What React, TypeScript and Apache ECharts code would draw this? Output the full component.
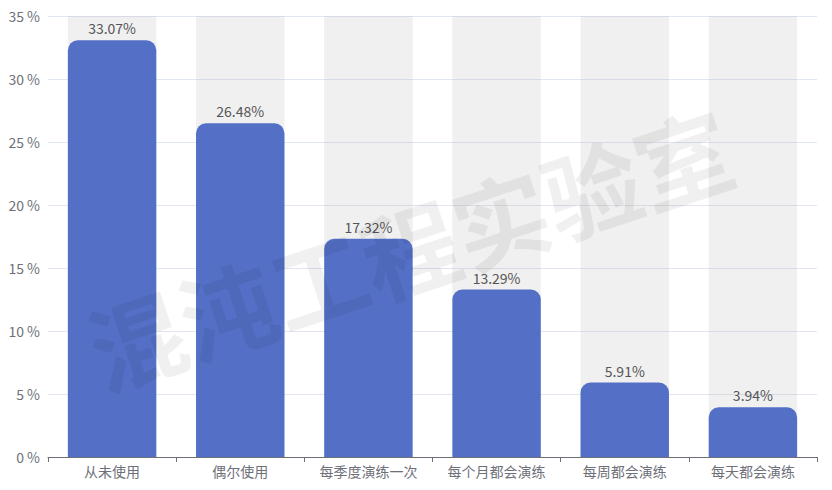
import React, { useEffect, useRef } from "react";
import * as echarts from "echarts";

const categories = ["从未使用", "偶尔使用", "每季度演练一次", "每个月都会演练", "每周都会演练", "每天都会演练"];
const values = [33.07, 26.48, 17.32, 13.29, 5.91, 3.94];
const watermarkText = "混沌工程实验室";

const FONT = "'Noto Sans CJK SC', 'Noto Sans', sans-serif";

export default function App() {
  const ref = useRef<HTMLDivElement>(null);
  useEffect(() => {
    if (!ref.current) return;
    const chart = echarts.init(ref.current, null, { renderer: "svg" });
    chart.setOption({
      animation: false,
      textStyle: { fontFamily: FONT },
      grid: { left: 48, right: 15, top: 16, bottom: 33, containLabel: false },
      xAxis: {
        type: "category",
        data: categories,
        axisTick: { show: true, alignWithLabel: false },
        axisLine: { lineStyle: { color: "#6e7079" } },
        axisLabel: { fontSize: 14, color: "#6e7079", fontFamily: FONT, margin: 7 },
      },
      yAxis: {
        type: "value",
        min: 0,
        max: 35,
        interval: 5,
        axisLabel: { formatter: "{value} %", fontSize: 14, color: "#6e7079", fontFamily: FONT, margin: 8 },
        splitLine: { lineStyle: { color: "#e0e6f1" } },
      },
      series: [
        {
          type: "bar",
          data: values,
          barWidth: "69%",
          showBackground: true,
          backgroundStyle: { color: "rgba(180,180,180,0.2)" },
          itemStyle: { color: "#5470c6", borderRadius: [10, 10, 0, 0] },
          label: {
            show: true,
            position: "top",
            formatter: (p: any) => p.value.toFixed(2) + "%",
            fontSize: 14,
            color: "#555",
            fontFamily: FONT,
          },
        },
      ],
      graphic: [
        {
          type: "text",
          x: 409,
          y: 247,
          rotation: 0.32,
          z: 100,
          silent: true,
          style: {
            text: watermarkText,
            fontSize: 96,
            fontWeight: "bold",
            fontFamily: FONT,
            fill: "rgba(0,0,0,0.06)",
            align: "center",
            verticalAlign: "middle",
          },
        },
      ],
    });
    return () => chart.dispose();
  }, []);
  return <div ref={ref} style={{ width: 832, height: 490, margin: -8 }} />;
}
